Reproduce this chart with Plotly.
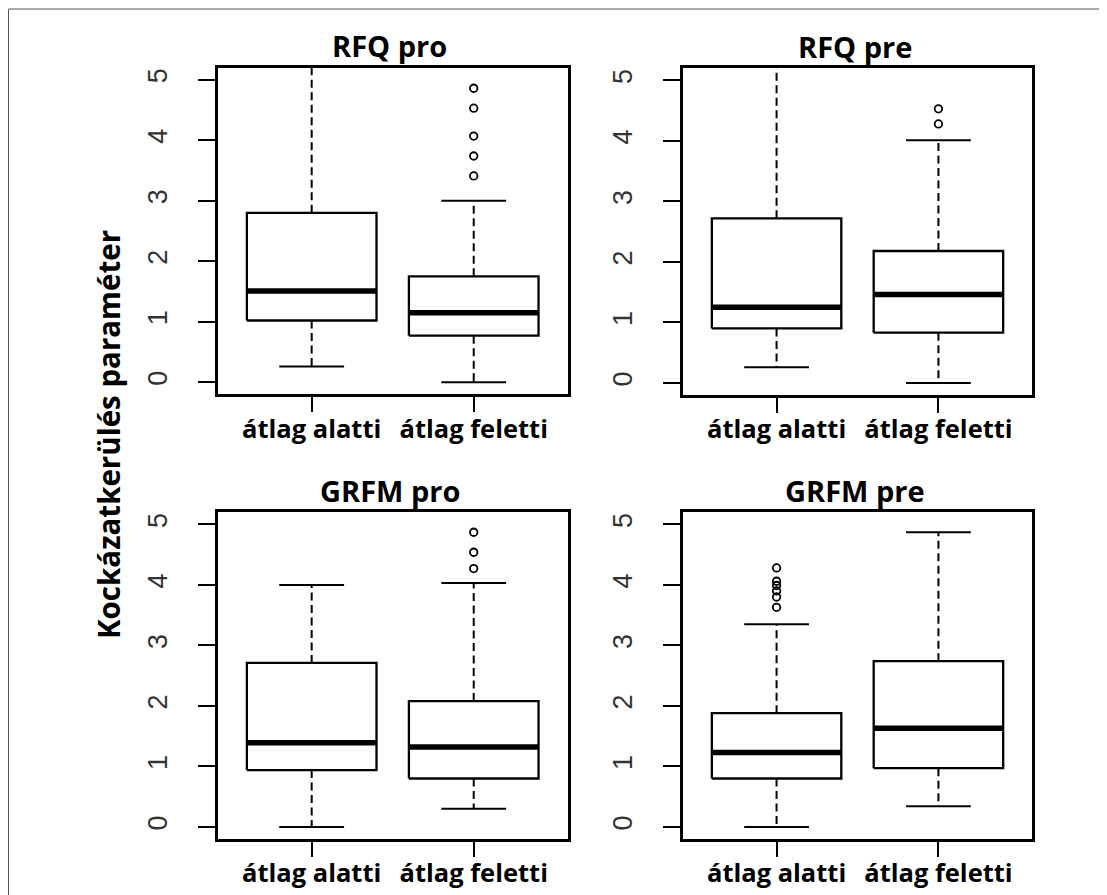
import plotly.graph_objects as go

# the page body has an 8px margin, so the figure is drawn 8px in from the window edge
OFF = 8
W, H = 1107 - OFF, 895 - OFF

panel_titles = ["RFQ pro", "RFQ pre", "GRFM pro", "GRFM pre"]
group_labels = ["átlag alatti", "átlag feletti"]
y_ticks = [0, 1, 2, 3, 4, 5]
y_title = "Kockázatkerülés paraméter"

# box statistics per panel: [átlag alatti, átlag feletti]
lower_whisker = [[0.26, 0.00], [0.26, 0.00], [0.00, 0.30], [0.00, 0.34]]
q1 = [[1.02, 0.77], [0.90, 0.83], [0.94, 0.80], [0.80, 0.97]]
median = [[1.51, 1.15], [1.25, 1.46], [1.39, 1.32], [1.23, 1.63]]
q3 = [[2.80, 1.75], [2.72, 2.18], [2.71, 2.08], [1.88, 2.74]]
upper_whisker = [[5.60, 3.00], [5.60, 4.01], [4.00, 4.03], [3.35, 4.87]]
outliers = [
    [[], [3.41, 3.74, 4.07, 4.53, 4.86]],
    [[], [4.28, 4.53]],
    [[], [4.27, 4.54, 4.87]],
    [[3.63, 3.80, 3.90, 3.99, 4.06, 4.28], []],
]

# page-pixel frame of each panel: (left, right, top, bottom)
frames_px = [
    (217.7, 567.7, 67.7, 394.3),
    (682.7, 1032.3, 68.3, 395.0),
    (217.7, 567.7, 512.3, 839.0),
    (682.7, 1032.3, 512.3, 839.0),
]


def px_x(v):
    return (v - OFF) / W


def px_y(v):
    return 1 - (v - OFF) / H


BOX_HALF = 0.4
CAP_HALF = 0.2
TXT_FONT = "Open Sans"

fig = go.Figure()
layout = {}

for p in range(4):
    ax = "" if p == 0 else str(p + 1)
    xref, yref = "x" + ax, "y" + ax
    for g in range(2):
        xc = g + 1
        # box outline
        fig.add_trace(go.Scatter(
            x=[xc - BOX_HALF, xc + BOX_HALF, xc + BOX_HALF, xc - BOX_HALF, xc - BOX_HALF],
            y=[q1[p][g], q1[p][g], q3[p][g], q3[p][g], q1[p][g]],
            mode="lines", line=dict(color="black", width=2.3),
            xaxis=xref, yaxis=yref, hoverinfo="skip"))
        # median
        fig.add_trace(go.Scatter(
            x=[xc - BOX_HALF, xc + BOX_HALF], y=[median[p][g], median[p][g]],
            mode="lines", line=dict(color="black", width=5.5),
            xaxis=xref, yaxis=yref, hoverinfo="skip"))
        # dashed whiskers
        for a, b in ((q3[p][g], upper_whisker[p][g]), (q1[p][g], lower_whisker[p][g])):
            fig.add_trace(go.Scatter(
                x=[xc, xc], y=[a, b], mode="lines",
                line=dict(color="black", width=2.0, dash="8px,4.5px"),
                xaxis=xref, yaxis=yref, hoverinfo="skip"))
        # staples
        for v in (upper_whisker[p][g], lower_whisker[p][g]):
            fig.add_trace(go.Scatter(
                x=[xc - CAP_HALF, xc + CAP_HALF], y=[v, v], mode="lines",
                line=dict(color="black", width=2.0),
                xaxis=xref, yaxis=yref, hoverinfo="skip"))
        # outliers
        if outliers[p][g]:
            fig.add_trace(go.Scatter(
                x=[xc] * len(outliers[p][g]), y=outliers[p][g], mode="markers",
                marker=dict(symbol="circle-open", size=7.5, color="black",
                            line=dict(width=1.8, color="black")),
                cliponaxis=False, xaxis=xref, yaxis=yref, hoverinfo="skip"))

    l, r, t, b = frames_px[p]
    layout["xaxis" + ax] = dict(
        domain=[px_x(l), px_x(r)], range=[0.42, 2.58], anchor=yref,
        tickmode="array", tickvals=[1, 2], ticktext=group_labels,
        ticks="outside", ticklen=15, tickwidth=2.2, tickcolor="black",
        showline=True, mirror=True, linecolor="black", linewidth=2.5,
        showgrid=False, zeroline=False, automargin=False,
        tickfont=dict(family=TXT_FONT, size=25.5, color="black", weight="bold"),
        ticklabelstandoff=-5,
    )
    layout["yaxis" + ax] = dict(
        domain=[px_y(b), px_y(t)], range=[-0.2, 5.2], anchor=xref,
        tickmode="array", tickvals=y_ticks, ticktext=[str(v) for v in y_ticks],
        tickangle=-90,
        ticks="outside", ticklen=17, tickwidth=2.2, tickcolor="black",
        showline=True, mirror=True, linecolor="black", linewidth=2.5,
        showgrid=False, zeroline=False, automargin=False,
        tickfont=dict(family="Liberation Sans", size=27, color="#333333"),
        ticklabelstandoff=20,
    )

annotations = []
for p in range(4):
    l, r, t, b = frames_px[p]
    annotations.append(dict(
        text="<b>%s</b>" % panel_titles[p], xref="paper", yref="paper",
        x=px_x((l + r) / 2 - 3), y=px_y(t - 22), xanchor="center", yanchor="middle",
        showarrow=False, font=dict(family=TXT_FONT, size=29, color="black")))

annotations.append(dict(
    text="<b>%s</b>" % y_title, xref="paper", yref="paper",
    x=px_x(108), y=px_y(435), xanchor="center", yanchor="middle", textangle=-90,
    showarrow=False, font=dict(family=TXT_FONT, size=29.5, color="black")))

shapes = [
    dict(type="line", xref="paper", yref="paper", x0=px_x(8.5), x1=1.0, y0=px_y(9), y1=px_y(9),
         line=dict(color="#555555", width=1)),
    dict(type="line", xref="paper", yref="paper", x0=px_x(8.5), x1=px_x(8.5), y0=0, y1=px_y(9),
         line=dict(color="#555555", width=1)),
]

fig.update_layout(
    width=W, height=H, margin=dict(l=0, r=0, t=0, b=0),
    paper_bgcolor="white", plot_bgcolor="white", showlegend=False,
    annotations=annotations, shapes=shapes, **layout)

fig.write_html("out.html")
